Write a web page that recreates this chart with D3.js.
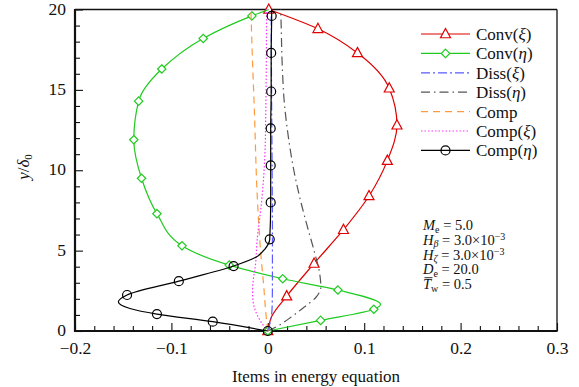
<!DOCTYPE html>
<html><head><meta charset="utf-8">
<script src="https://cdn.jsdelivr.net/npm/d3@7"></script>
<style>
html,body{margin:0;padding:0;background:#fff;}
svg text{font-family:"Liberation Serif","Times New Roman",serif;fill:#111;}
</style></head>
<body><svg id="c" width="579" height="387"></svg>
<script>
// ---- data ----
const xTicks = [-0.2, -0.1, 0, 0.1, 0.2, 0.3];
const xTickLabels = ["\u22120.2", "\u22120.1", "0", "0.1", "0.2", "0.3"];
const yTicks = [0, 5, 10, 15, 20];
const yTickLabels = ["0", "5", "10", "15", "20"];
const seriesNames = ["Conv(\u03be)", "Conv(\u03b7)", "Diss(\u03be)", "Diss(\u03b7)", "Comp", "Comp(\u03be)", "Comp(\u03b7)"];
// points: [value, y/delta0, marker flag]
const convXi = [[0,0,1],[0.004,0.9,0],[0.0196,2.17,1],[0.048,4.2,1],[0.0785,6.3,1],[0.105,8.4,1],[0.124,10.6,1],[0.134,12.8,1],[0.126,15.1,1],[0.093,17.3,1],[0.052,18.8,1],[0.001,20,1]];
const convEta = [[0,0,1],[0.0548,0.66,1],[0.11,1.35,1],[0.117,1.66,0],[0.0727,2.55,1],[0.0155,3.25,1],[-0.040,4.1,1],[-0.089,5.3,1],[-0.115,7.3,1],[-0.131,9.5,1],[-0.139,11.9,1],[-0.134,14.3,1],[-0.110,16.3,1],[-0.067,18.2,1],[-0.0165,19.6,1],[0.001,20,0]];
const dissXi = [[0,0,0],[0.0024,0.5,0],[0.0045,1.5,0],[0.0048,3,0],[0.0048,6,0],[0.0045,10,0],[0.004,14,0],[0.0035,20,0]];
const dissEta = [[0,0,0],[0.01,0.3,0],[0.025,0.9,0],[0.038,1.5,0],[0.05,2.1,0],[0.055,2.75,0],[0.054,3.5,0],[0.048,5.0,0],[0.041,6.5,0],[0.034,8.1,0],[0.027,10,0],[0.0215,12,0],[0.017,14.3,0],[0.015,16.5,0],[0.0135,19.7,0],[0.0133,20,0]];
const comp = [[0,0,0],[-0.001,0.5,0],[-0.002,1.1,0],[-0.0045,3,0],[-0.007,4.6,0],[-0.0107,8.1,0],[-0.0141,14,0],[-0.016,17,0],[-0.0175,20,0]];
const compXi = [[0,0,0],[-0.004,0.3,0],[-0.011,1,0],[-0.0155,2,0],[-0.0158,2.55,0],[-0.015,3.2,0],[-0.013,4,0],[-0.011,5.7,0],[-0.0065,8,0],[-0.003,11,0],[-0.002,14,0],[-0.0015,17,0],[-0.0013,20,0]];
const compEta = [[0,0,1],[-0.0571,0.58,1],[-0.115,1.05,1],[-0.143,1.4,0],[-0.155,1.82,0],[-0.146,2.24,1],[-0.0923,3.1,1],[-0.0355,4.04,1],[-0.012,4.6,0],[-0.003,5.1,0],[0.002,5.7,1],[0.003,8,1],[0.003,10.3,1],[0.003,12.6,1],[0.0035,14.9,1],[0.0035,17.3,1],[0.004,19.6,1],[0.004,20,0]];

// ---- styles ----
const styles = [
  {data: convXi, color: "#e00000", dash: null, marker: "tri"},
  {data: convEta, color: "#1ecb1e", dash: null, marker: "dia"},
  {data: dissXi, color: "#5a5aff", dash: "9,3,2,3", marker: null},
  {data: dissEta, color: "#555555", dash: "9,4,1.5,4", marker: null},
  {data: comp, color: "#ff9a3c", dash: "7,5", marker: null},
  {data: compXi, color: "#ff33ff", dash: "1.5,2", marker: null},
  {data: compEta, color: "#000000", dash: null, marker: "circ"}
];

const svg = d3.select("#c");
const L = 75, R = 557, T = 9.5, B = 331;
const x = d3.scaleLinear().domain([-0.2, 0.3]).range([L, R]);
const y = d3.scaleLinear().domain([0, 20]).range([B, T]);

// minor ticks
const xMinor = d3.range(-0.2, 0.3001, 0.02).filter(v => Math.abs(Math.round(v*10)/10 - v) > 1e-6);
const yMinor = d3.range(0, 20.001, 1).filter(v => v % 5 !== 0);

const gx = svg.append("g").attr("transform", `translate(0,${B})`);
gx.call(d3.axisBottom(x).tickValues(xMinor).tickSize(-5).tickFormat(""));
gx.call(g => g.select(".domain").remove());
const gx2 = svg.append("g").attr("transform", `translate(0,${B})`);
gx2.call(d3.axisBottom(x).tickValues(xTicks).tickSize(-8).tickFormat((d,i) => xTickLabels[i]));
gx2.select(".domain").remove();
gx2.selectAll("text").attr("y", 11).attr("dy", "0.71em").style("font-size", "17.5px");
svg.selectAll(".tick line").attr("stroke", "#111").attr("stroke-width", 1.1);

const gy = svg.append("g").attr("transform", `translate(${L},0)`);
gy.call(d3.axisLeft(y).tickValues(yMinor).tickSize(-5).tickFormat(""));
gy.select(".domain").remove();
const gy2 = svg.append("g").attr("transform", `translate(${L},0)`);
gy2.call(d3.axisLeft(y).tickValues(yTicks).tickSize(-8).tickFormat((d,i) => yTickLabels[i]));
gy2.select(".domain").remove();
gy2.selectAll("text").attr("x", -9).attr("dy", "0.26em").style("font-size", "17.5px");
svg.selectAll(".tick line").attr("stroke", "#111").attr("stroke-width", 1.1);

// frame
svg.append("line").attr("x1", L).attr("x2", R).attr("y1", T).attr("y2", T).attr("stroke", "#111").attr("stroke-width", 1.3);
svg.append("line").attr("x1", R).attr("x2", R).attr("y1", T).attr("y2", B).attr("stroke", "#111").attr("stroke-width", 1.3);
svg.append("line").attr("x1", L).attr("x2", L).attr("y1", T - 0.6).attr("y2", B + 1).attr("stroke", "#111").attr("stroke-width", 2.2);
svg.append("line").attr("x1", L - 1).attr("x2", R + 0.6).attr("y1", B).attr("y2", B).attr("stroke", "#111").attr("stroke-width", 2.2);

// series
const line = d3.line().x(d => x(d[0])).y(d => y(d[1])).curve(d3.curveMonotoneY);

function drawMarker(g, type, cx, cy, color) {
  if (type === "tri") {
    const s = 5;
    g.append("path").attr("d", `M${cx},${cy - s - 0.5}L${cx + s},${cy + s*0.75}L${cx - s},${cy + s*0.75}Z`)
      .attr("fill", "#fff").attr("stroke", color).attr("stroke-width", 1.2);
  } else if (type === "dia") {
    const s = 4.2;
    g.append("path").attr("d", `M${cx},${cy - s}L${cx + s},${cy}L${cx},${cy + s}L${cx - s},${cy}Z`)
      .attr("fill", "#fff").attr("stroke", color).attr("stroke-width", 1.2);
  } else if (type === "circ") {
    g.append("circle").attr("cx", cx).attr("cy", cy).attr("r", 4.5)
      .attr("fill", "none").attr("stroke", color).attr("stroke-width", 1.2);
  }
}

styles.forEach(s => {
  const g = svg.append("g");
  g.append("path").datum(s.data).attr("d", line).attr("fill", "none")
    .attr("stroke", s.color).attr("stroke-width", 1.2)
    .attr("stroke-dasharray", s.dash);
  if (s.marker) {
    s.data.filter(d => d[2]).forEach(d => drawMarker(g, s.marker, x(d[0]), y(d[1]), s.color));
  }
});

// legend
const lg = svg.append("g");
const legY0 = 34, legDy = 19.4;
styles.forEach((s, i) => {
  const yy = legY0 + i * legDy;
  lg.append("line").attr("x1", 421).attr("x2", 470).attr("y1", yy).attr("y2", yy)
    .attr("stroke", s.color).attr("stroke-width", 1.2).attr("stroke-dasharray", s.dash);
  if (s.marker) drawMarker(lg, s.marker, 445.5, yy, s.color);
  const name = seriesNames[i];
  const t = lg.append("text").attr("x", 476).attr("y", yy + 6).style("font-size", "17px");
  const m = name.match(/^(\w+)(\((.)\))?$/);
  t.append("tspan").text(m[1]);
  if (m[2]) {
    t.append("tspan").text("(");
    t.append("tspan").style("font-style", "italic").text(m[3]);
    t.append("tspan").text(")");
  }
});

// annotation
const ann = svg.append("g").style("font-size", "14.5px");
const annX = 423, annY0 = 230, annDy = 14.8;
function annLine(i, sym, sub, rest, sup) {
  const t = ann.append("text").attr("x", annX).attr("y", annY0 + i * annDy);
  t.append("tspan").style("font-style", "italic").text(sym);
  t.append("tspan").attr("dy", 2.5).style("font-size", "10px").style("font-style", /[\u03b2\u03b6]/.test(sub) ? "italic" : "normal").text(sub);
  t.append("tspan").attr("dy", -2.5).text(" = " + rest);
  if (sup) t.append("tspan").attr("dy", -5).style("font-size", "10px").text(sup);
}
annLine(0, "M", "e", "5.0");
annLine(1, "H", "\u03b2", "3.0\u00d710", "\u22123");
annLine(2, "H", "\u03b6", "3.0\u00d710", "\u22123");
annLine(3, "D", "e", "20.0");
annLine(4, "T", "w", "0.5");
// overbar on T
ann.append("line").attr("x1", annX + 1.5).attr("x2", annX + 9.5)
  .attr("y1", annY0 + 4 * annDy - 11.5).attr("y2", annY0 + 4 * annDy - 11.5)
  .attr("stroke", "#111").attr("stroke-width", 0.9);

// axis titles
svg.append("text").attr("x", 316).attr("y", 382).attr("text-anchor", "middle")
  .style("font-size", "17px").text("Items in energy equation");
const yl = svg.append("text").attr("transform", "translate(29,167) rotate(-90)")
  .attr("text-anchor", "middle").style("font-size", "17px");
yl.append("tspan").style("font-style", "italic").text("y");
yl.append("tspan").text("/");
yl.append("tspan").style("font-style", "italic").text("\u03b4");
yl.append("tspan").attr("dy", 3).style("font-size", "11px").text("0");
</script></body></html>
